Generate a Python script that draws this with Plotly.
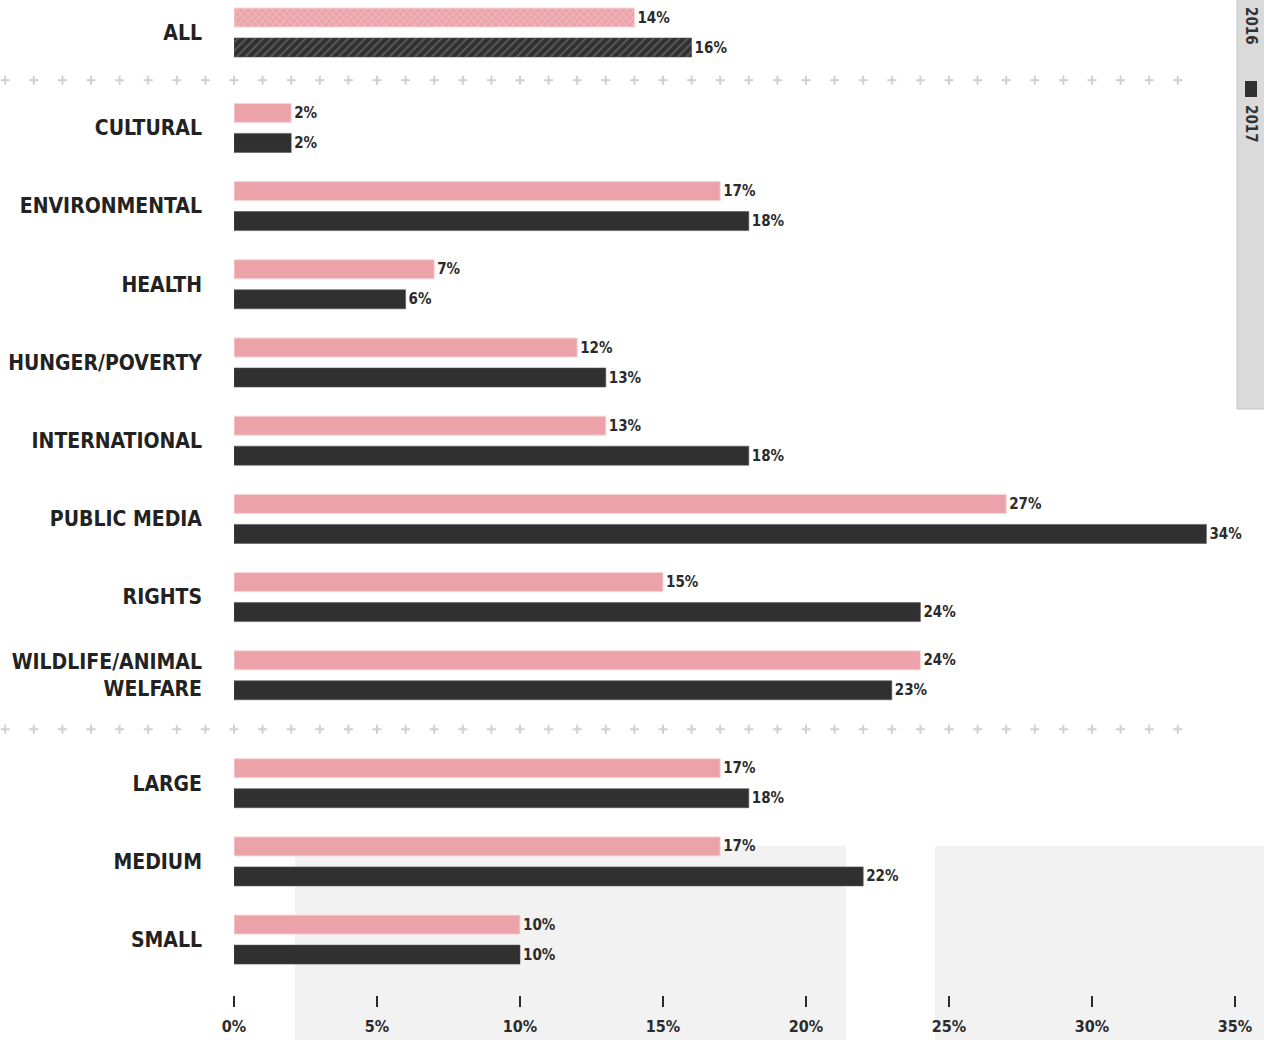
import plotly.graph_objects as go

# ---- data -------------------------------------------------------------
groups = ["ALL", "CULTURAL", "ENVIRONMENTAL", "HEALTH", "HUNGER/POVERTY",
          "INTERNATIONAL", "PUBLIC MEDIA", "RIGHTS", "WILDLIFE/ANIMAL<br>WELFARE",
          "LARGE", "MEDIUM", "SMALL"]
share_2016 = [14, 2, 17, 7, 12, 13, 27, 15, 24, 17, 17, 10]
share_2017 = [16, 2, 18, 6, 13, 18, 34, 24, 23, 18, 22, 10]
x_ticks = [0, 5, 10, 15, 20, 25, 30, 35]
x_tick_labels = ["0%", "5%", "10%", "15%", "20%", "25%", "30%", "35%"]
section_starts = [1, 9]          # rows that open a new section (after a divider)

# ---- layout helpers ---------------------------------------------------
FIG_W, FIG_H = 1264, 1040
M_L, M_R, M_T, M_B = 234, 29, 0, 45
X_MAX = 35
ROW_PX = 78.2
extra_gap = {1: 0.22, 9: 0.38}

positions = []
p = 0.0
for i in range(len(groups)):
    if i in extra_gap:
        p += extra_gap[i]
    positions.append(p)
    if i < len(groups) - 1:
        p += 1.0

y_top = -32.5 / ROW_PX
y_bot = positions[-1] + (FIG_H - M_B - 32.5 - positions[-1] * ROW_PX) / ROW_PX

BAR_W = 19 / ROW_PX
HALF_SEP = 15 / ROW_PX

PINK = "#eba2a8"
DARK = "#303031"
FONT = "Liberation Sans Narrow, DejaVu Sans Condensed, Arial Narrow, sans-serif"

plot_w = FIG_W - M_L - M_R
plot_h = FIG_H - M_T - M_B


def px_x(px):
    return (px - M_L) / plot_w


def px_y(py):
    return 1 - (py - M_T) / plot_h


def data_y_to_paper(v):
    return (y_bot - v) / (y_bot - y_top)


fig = go.Figure()

pattern_2016 = ["x" if g == "ALL" else "" for g in groups]
pattern_2017 = ["/" if g == "ALL" else "" for g in groups]

fig.add_trace(go.Bar(
    name="2016", orientation="h", x=share_2016, y=positions,
    width=BAR_W, offset=-HALF_SEP - BAR_W / 2,
    marker=dict(color=PINK, line=dict(color="#f5d5d8", width=1),
                pattern=dict(shape=pattern_2016, fgcolor="#f7d3d6",
                             size=5, solidity=0.35)),
    text=[f"{v}%" for v in share_2016], textposition="outside",
    constraintext="none", cliponaxis=False,
    textfont=dict(family=FONT, size=15, color="#2b2b2b", weight="bold"),
    hoverinfo="skip", showlegend=False,
))
fig.add_trace(go.Bar(
    name="2017", orientation="h", x=share_2017, y=positions,
    width=BAR_W, offset=HALF_SEP - BAR_W / 2,
    marker=dict(color=DARK, line=dict(color="#555555", width=0.6),
                pattern=dict(shape=pattern_2017, fgcolor="#8a8a8a",
                             size=6, solidity=0.3)),
    text=[f"{v}%" for v in share_2017], textposition="outside",
    constraintext="none", cliponaxis=False,
    textfont=dict(family=FONT, size=15, color="#2b2b2b", weight="bold"),
    hoverinfo="skip", showlegend=False,
))

shapes = [
    # light backdrop panels behind the lower rows and the side legend strip
    dict(type="rect", xref="paper", yref="paper", layer="below",
         x0=px_x(295), x1=px_x(846), y0=px_y(1040), y1=px_y(846),
         fillcolor="#f2f2f2", line=dict(width=0)),
    dict(type="rect", xref="paper", yref="paper", layer="below",
         x0=px_x(935), x1=px_x(1264), y0=px_y(1040), y1=px_y(846),
         fillcolor="#f2f2f2", line=dict(width=0)),
    dict(type="rect", xref="paper", yref="paper", layer="below",
         x0=px_x(1237), x1=px_x(1266), y0=px_y(409), y1=px_y(-2),
         fillcolor="#dadada", line=dict(color="#c4c4c4", width=1)),
    dict(type="rect", xref="paper", yref="paper", layer="above",
         x0=px_x(1245), x1=px_x(1257), y0=px_y(97), y1=px_y(81),
         fillcolor=DARK, line=dict(width=0)),
]

# dotted "+" dividers between sections, one cross per percentage step,
# running from the label column across the bars
ARM = 4.5
for s in section_starts:
    y_div = (positions[s - 1] + HALF_SEP + BAR_W / 2
             + positions[s] - HALF_SEP - BAR_W / 2) / 2
    cy = data_y_to_paper(y_div)
    for xv in range(-8, 34):
        cx = xv / X_MAX
        dx = ARM / plot_w
        dy = ARM / plot_h
        shapes.append(dict(type="line", xref="paper", yref="paper", layer="below",
                           x0=cx - dx, x1=cx + dx, y0=cy, y1=cy,
                           line=dict(color="#d0d0d0", width=2)))
        shapes.append(dict(type="line", xref="paper", yref="paper", layer="below",
                           x0=cx, x1=cx, y0=cy - dy, y1=cy + dy,
                           line=dict(color="#d0d0d0", width=2)))

annotations = [
    dict(text="2016", xref="paper", yref="paper", x=px_x(1251), y=px_y(26),
         xanchor="center", yanchor="middle", textangle=90, showarrow=False,
         font=dict(family=FONT, size=15, color="#333", weight="bold")),
    dict(text="2017", xref="paper", yref="paper", x=px_x(1251), y=px_y(124),
         xanchor="center", yanchor="middle", textangle=90, showarrow=False,
         font=dict(family=FONT, size=15, color="#333", weight="bold")),
]

fig.update_layout(
    width=FIG_W, height=FIG_H,
    margin=dict(l=M_L, r=M_R, t=M_T, b=M_B),
    paper_bgcolor="white", plot_bgcolor="rgba(0,0,0,0)",
    barmode="overlay",
    shapes=shapes, annotations=annotations,
    xaxis=dict(range=[0, X_MAX], tickvals=x_ticks, ticktext=x_tick_labels,
               showgrid=False, zeroline=False, showline=False,
               ticks="outside", ticklen=11, tickwidth=2, tickcolor="#2b2b2b",
               ticklabelstandoff=6,
               tickfont=dict(family=FONT, size=16, color="#2b2b2b", weight="bold")),
    yaxis=dict(range=[y_bot, y_top], tickvals=positions, ticktext=groups,
               showgrid=False, zeroline=False, showline=False, ticks="",
               ticklabelstandoff=31,
               tickfont=dict(family=FONT, size=21, color="#222", weight="bold")),
)

fig.write_html("out.html")
